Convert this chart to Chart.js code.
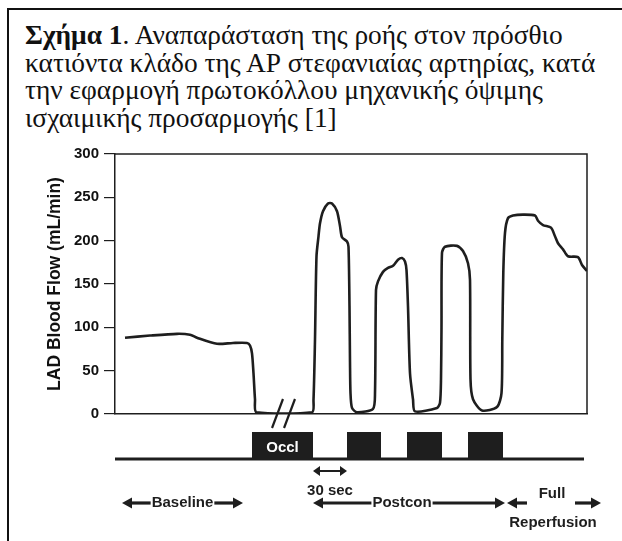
<!DOCTYPE html>
<html>
<head>
<meta charset="utf-8">
<script src="https://cdn.jsdelivr.net/npm/chart.js@4"></script>
<style>
  html, body { margin: 0; padding: 0; background: #fff; }
  #wrap { position: relative; width: 622px; height: 541px; overflow: hidden; }
  #frame { position: absolute; left: 7px; top: 8px; width: 640px; height: 560px;
           border-top: 2px solid #111; border-left: 2px solid #111; }
  #title { position: absolute; left: 25px; top: 22px; width: 595px; white-space: nowrap;
           font-family: "Liberation Serif", "DejaVu Serif", serif; font-size: 27.4px;
           line-height: 27.7px; color: #111; }
  #title b { font-weight: bold; }
  canvas { position: absolute; left: 0; top: 0; }
</style>
</head>
<body>
<div id="wrap">
  <div id="frame"></div>
  <div id="title"><b>Σχήμα 1</b>. Αναπαράσταση της ροής στον πρόσθιο<br>κατιόντα κλάδο της ΑΡ στεφανιαίας αρτηρίας, κατά<br>την εφαρμογή πρωτοκόλλου μηχανικής όψιμης<br>ισχαιμικής προσαρμογής [1]</div>
  <canvas id="c" width="622" height="541"></canvas>
</div>
<script>
// ---- data (time in arbitrary units along the trace, flow in mL/min) ----
const yTicks = [0, 50, 100, 150, 200, 250, 300];
const time = [10, 35, 62, 75, 82, 102, 118, 132, 135, 137, 138.5, 140, 141.5,
  197, 198.5, 200, 201.5, 203.5, 205, 208, 213, 217, 222, 225, 227, 232, 233.5, 234.5, 235, 235.5, 237, 242,
  258, 260, 261, 263, 268, 273, 278, 283, 287, 290, 291.5, 293, 295, 298, 300,
  322, 325, 326, 326.5, 327, 330, 342, 348, 353, 355, 355.5, 358, 367,
  382, 386.5, 387.3, 388.3, 390, 393, 398, 408, 420, 423, 428, 436, 440, 443, 448, 453, 463, 467, 472];
const flow = [88, 90.5, 92.5, 91.5, 88, 81, 82, 82, 79, 70, 47, 17, 2,
  2, 16, 86, 182, 205, 220, 234, 243, 243, 234, 217, 204, 199, 193, 124, 60, 24, 7, 2,
  6, 24, 143, 153, 164, 168.5, 171, 178, 180, 176, 166, 124, 47, 17, 3,
  7, 13, 40, 100, 186, 193, 194, 188, 174, 155, 40, 17, 4,
  8, 24, 86, 163, 209, 226, 229, 230, 229, 223, 218, 215, 205, 197, 190, 182, 181, 172, 165];
// protocol: occlusion periods (start, end) on the same time axis
const occlStart = [137, 232, 292, 353];
const occlEnd   = [198, 266, 327, 388];
const occlLabels = ['Occl', '', '', ''];
const protocolSpan = [0, 469];
const breakAt = [157, 169];
// phase annotations (time ranges)
const phaseNames = ['Baseline', 'Postcon'];
const phaseFrom  = [7, 198];
const phaseTo    = [128, 390];
const intervalArrow = [198, 232];   // "30 sec"

const points = time.map((t, i) => ({ x: t, y: flow[i] }));
const INK = '#1e1e1e';
const SANS = '"Liberation Sans", Arial, sans-serif';

function arrowHead(ctx, x, y, dir, len, half) {
  ctx.beginPath();
  ctx.moveTo(x, y);
  ctx.lineTo(x - dir * len, y - half);
  ctx.lineTo(x - dir * len, y + half);
  ctx.closePath();
  ctx.fill();
}
function hArrow(ctx, x1, x2, y, headL, headR) {
  ctx.lineWidth = 3.2;
  ctx.beginPath();
  ctx.moveTo(x1 + (headL ? 6 : 0), y);
  ctx.lineTo(x2 - (headR ? 6 : 0), y);
  ctx.stroke();
  if (headL) arrowHead(ctx, x1, y, -1, 10, 5.5);
  if (headR) arrowHead(ctx, x2, y, 1, 10, 5.5);
}

const decor = {
  id: 'decor',
  afterDraw(chart) {
    const ctx = chart.ctx;
    const a = chart.chartArea;
    const xs = chart.scales.x;
    const X = v => xs.getPixelForValue(v);
    ctx.save();
    ctx.strokeStyle = INK;
    ctx.fillStyle = INK;
    // top & right frame of plot
    ctx.lineWidth = 1.5;
    ctx.beginPath();
    ctx.moveTo(a.left, a.top);
    ctx.lineTo(a.right, a.top);
    ctx.lineTo(a.right, a.bottom);
    ctx.stroke();
    // break marks
    ctx.lineWidth = 2.2;
    breakAt.forEach(t => {
      ctx.beginPath();
      ctx.moveTo(X(t), a.bottom + 14);
      ctx.lineTo(X(t) + 11, a.bottom - 15);
      ctx.stroke();
    });
    // protocol baseline
    const lineY = a.bottom + 45;
    ctx.lineWidth = 3;
    ctx.beginPath();
    ctx.moveTo(X(protocolSpan[0]), lineY);
    ctx.lineTo(X(protocolSpan[1]), lineY);
    ctx.stroke();
    // occlusion blocks
    occlStart.forEach((s, i) => {
      const x1 = X(s), x2 = X(occlEnd[i]);
      ctx.fillStyle = INK;
      ctx.fillRect(x1, lineY - 27, x2 - x1, 27);
      if (occlLabels[i]) {
        ctx.fillStyle = '#fff';
        ctx.font = 'bold 15px ' + SANS;
        ctx.textAlign = 'center';
        ctx.textBaseline = 'middle';
        ctx.fillText(occlLabels[i], (x1 + x2) / 2, lineY - 11);
      }
    });
    ctx.fillStyle = INK;
    // 30 sec double arrow
    const ia1 = X(intervalArrow[0]), ia2 = X(intervalArrow[1]);
    ctx.lineWidth = 2;
    ctx.beginPath();
    ctx.moveTo(ia1 + 4, lineY + 12);
    ctx.lineTo(ia2 - 4, lineY + 12);
    ctx.stroke();
    arrowHead(ctx, ia1, lineY + 12, -1, 7, 5);
    arrowHead(ctx, ia2, lineY + 12, 1, 7, 5);
    ctx.font = 'bold 15px ' + SANS;
    ctx.textAlign = 'center';
    ctx.textBaseline = 'middle';
    ctx.fillText('30 sec', (ia1 + ia2) / 2, lineY + 32);
    // phases
    const phaseY = lineY + 44;
    phaseNames.forEach((n, i) => {
      const x1 = X(phaseFrom[i]), x2 = X(phaseTo[i]);
      const cx = n === 'Postcon' ? X(phaseFrom[i] + 89) : (x1 + x2) / 2;
      const w = ctx.measureText(n).width;
      hArrow(ctx, x1, cx - w / 2 - 1, phaseY, true, false);
      hArrow(ctx, cx + w / 2 + 1, x2, phaseY, false, true);
      ctx.fillText(n, cx, phaseY);
    });
    // full reperfusion
    const fx = X(phaseTo[1]) + 2;
    hArrow(ctx, fx, fx + 20, phaseY, true, false);
    hArrow(ctx, fx + 68, fx + 94, phaseY, false, true);
    ctx.fillText('Full', fx + 45, phaseY - 9);
    ctx.fillText('Reperfusion', fx + 46, phaseY + 20);
    ctx.restore();
  }
};

new Chart(document.getElementById('c'), {
  type: 'line',
  data: {
    datasets: [{
      data: points,
      borderColor: INK,
      borderWidth: 2.6,
      pointRadius: 0,
      tension: 0.25,
      fill: false
    }]
  },
  options: {
    responsive: false,
    animation: false,
    events: [],
    layout: { padding: { top: 154, right: 35, left: 0, bottom: 0 } },
    plugins: { legend: { display: false }, tooltip: { enabled: false } },
    scales: {
      x: {
        type: 'linear', min: 0, max: 472,
        grid: { display: false },
        border: { display: true, color: INK, width: 1.5 },
        ticks: { display: false },
        afterFit(s) { s.height = 127; }
      },
      y: {
        min: 0, max: 300,
        afterBuildTicks(s) { s.ticks = yTicks.map(v => ({ value: v })); },
        grid: { drawOnChartArea: false, drawTicks: true, tickLength: 11, color: INK, lineWidth: 1.2 },
        border: { display: true, color: INK, width: 1.5 },
        ticks: { color: '#111', font: { family: SANS, size: 15, weight: 'bold' }, padding: 5 },
        title: { display: true, text: 'LAD Blood Flow (mL/min)', color: '#111',
                 font: { family: SANS, size: 17.5, weight: 'bold' }, padding: { top: 45, bottom: 0 } },
        afterFit(s) { s.width = 115; }
      }
    }
  },
  plugins: [decor]
});
</script>
</body>
</html>
